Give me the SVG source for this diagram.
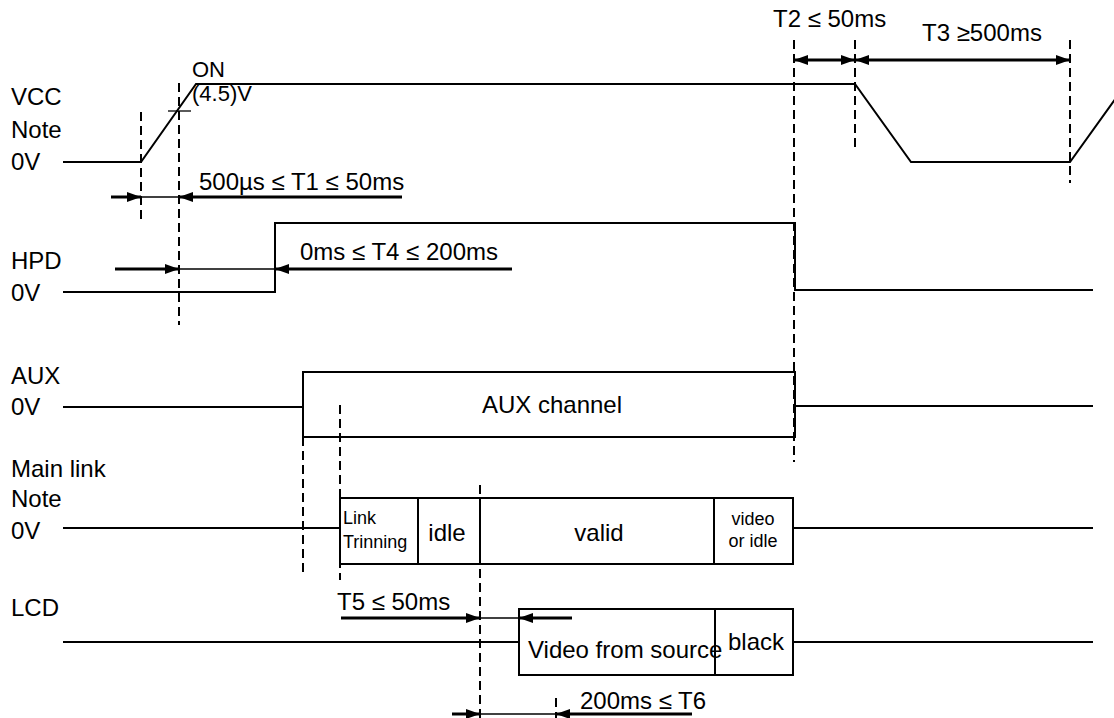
<svg xmlns="http://www.w3.org/2000/svg" width="1114" height="718" viewBox="0 0 1114 718">
<style>
text{font-family:"Liberation Sans",Arial,sans-serif;font-size:24px;fill:#000}
.s{font-size:18px}
.m{font-size:22px}
.sig{fill:none;stroke:#000;stroke-width:2}
.box{fill:#fff;stroke:#000;stroke-width:2}
.dash{stroke:#000;stroke-width:2;stroke-dasharray:9 5;fill:none}
.thick{stroke:#000;stroke-width:3;fill:none}
.thin{stroke:#000;stroke-width:1.3;fill:none}
.mid{text-anchor:middle}
</style>
<defs>
<marker id="ah" viewBox="0 0 14 10" refX="14" refY="5" markerWidth="14" markerHeight="10" markerUnits="userSpaceOnUse" orient="auto-start-reverse">
<path d="M0,0 L14,5 L0,10 Z" fill="#000"/>
</marker>
</defs>
<g id="labels">
<text x="11" y="105">VCC</text>
<text x="11" y="138">Note</text>
<text x="11" y="170">0V</text>
<text x="11" y="269">HPD</text>
<text x="11" y="301">0V</text>
<text x="11" y="384">AUX</text>
<text x="11" y="415">0V</text>
<text x="11" y="477">Main link</text>
<text x="11" y="507">Note</text>
<text x="11" y="539">0V</text>
<text x="11" y="616">LCD</text>
</g>
<g id="vcc">
<path class="sig" d="M63,162 L141,162 L196,84 L855,84 L911,162 L1070,162 L1126,84"/>
<path class="thin" d="M168,111 L191,111" stroke-width="1.6"/>
<text class="m" x="192" y="77">ON</text>
<text class="m" x="192" y="101">(4.5)V</text>
</g>
<g id="hpd">
<path class="sig" d="M63,292 L275,292 L275,223 L795,223 L795,290 L1093,290"/>
</g>
<g id="aux">
<path class="sig" d="M63,407 L303,407"/>
<path class="sig" d="M795,406 L1093,406"/>
<rect class="box" x="303" y="372" width="492" height="65"/>
<text class="mid" x="552" y="413">AUX channel</text>
</g>
<g id="mainlink">
<path class="sig" d="M63,528 L340,528"/>
<path class="sig" d="M793,528 L1093,528"/>
<rect class="box" x="340" y="498" width="453" height="66"/>
<path class="sig" d="M418,498 L418,564 M480,498 L480,564 M714,498 L714,564"/>
<text class="s" x="343" y="524">Link</text>
<text class="s" x="343" y="548">Trinning</text>
<text class="mid" x="447" y="541">idle</text>
<text class="mid" x="599" y="541">valid</text>
<text class="s mid" x="753" y="525">video</text>
<text class="s mid" x="753" y="547">or idle</text>
</g>
<g id="lcd">
<path class="sig" d="M63,642 L519,642"/>
<path class="sig" d="M793,642 L1093,642"/>
<rect class="box" x="519" y="609" width="274" height="66"/>
<path class="sig" d="M715,609 L715,675"/>
<text x="528" y="658">Video from source</text>
<text x="728" y="650">black</text>
</g>
<g id="connectors">
<path class="dash" d="M141,112 L141,223"/>
<path class="dash" d="M179,83 L179,325"/>
<path class="dash" d="M794,40 L794,462"/>
<path class="dash" d="M855,40 L855,152"/>
<path class="dash" d="M1070,40 L1070,183"/>
<path class="dash" d="M303,437 L303,575"/>
<path class="dash" d="M340,405 L340,580"/>
<path class="dash" d="M480,485 L480,718"/>
<path class="dash" d="M556,698 L556,718"/>
<path class="thick" d="M111,197 L141,197" marker-end="url(#ah)"/>
<path class="thin" d="M141,197 L179,197"/>
<path class="thick" d="M402,197 L179,197" marker-end="url(#ah)"/>
<path class="thick" d="M115,269 L179,269" marker-end="url(#ah)"/>
<path class="thin" d="M179,269 L275,269"/>
<path class="thick" d="M512,269 L275,269" marker-end="url(#ah)"/>
<path class="thick" d="M794,60 L855,60" marker-start="url(#ah)" marker-end="url(#ah)"/>
<path class="thick" d="M855,60 L1070,60" marker-start="url(#ah)" marker-end="url(#ah)"/>
<path class="thick" d="M341,618 L480,618" marker-end="url(#ah)"/>
<path class="thin" d="M480,618 L519,618"/>
<path class="thick" d="M572,618 L519,618" marker-end="url(#ah)"/>
<path class="thick" d="M452,714 L480,714" marker-end="url(#ah)"/>
<path class="thin" d="M480,714 L556,714"/>
<path class="thick" d="M692,714 L556,714" marker-end="url(#ah)"/>
</g>
<g id="timing-labels">
<text x="199" y="190">500µs ≤ T1 ≤ 50ms</text>
<text x="300" y="260">0ms ≤ T4 ≤ 200ms</text>
<text x="773" y="27">T2 ≤ 50ms</text>
<text x="922" y="41">T3 ≥500ms</text>
<text x="337" y="610">T5 ≤ 50ms</text>
<text x="580" y="709">200ms ≤ T6</text>
</g>
</svg>
